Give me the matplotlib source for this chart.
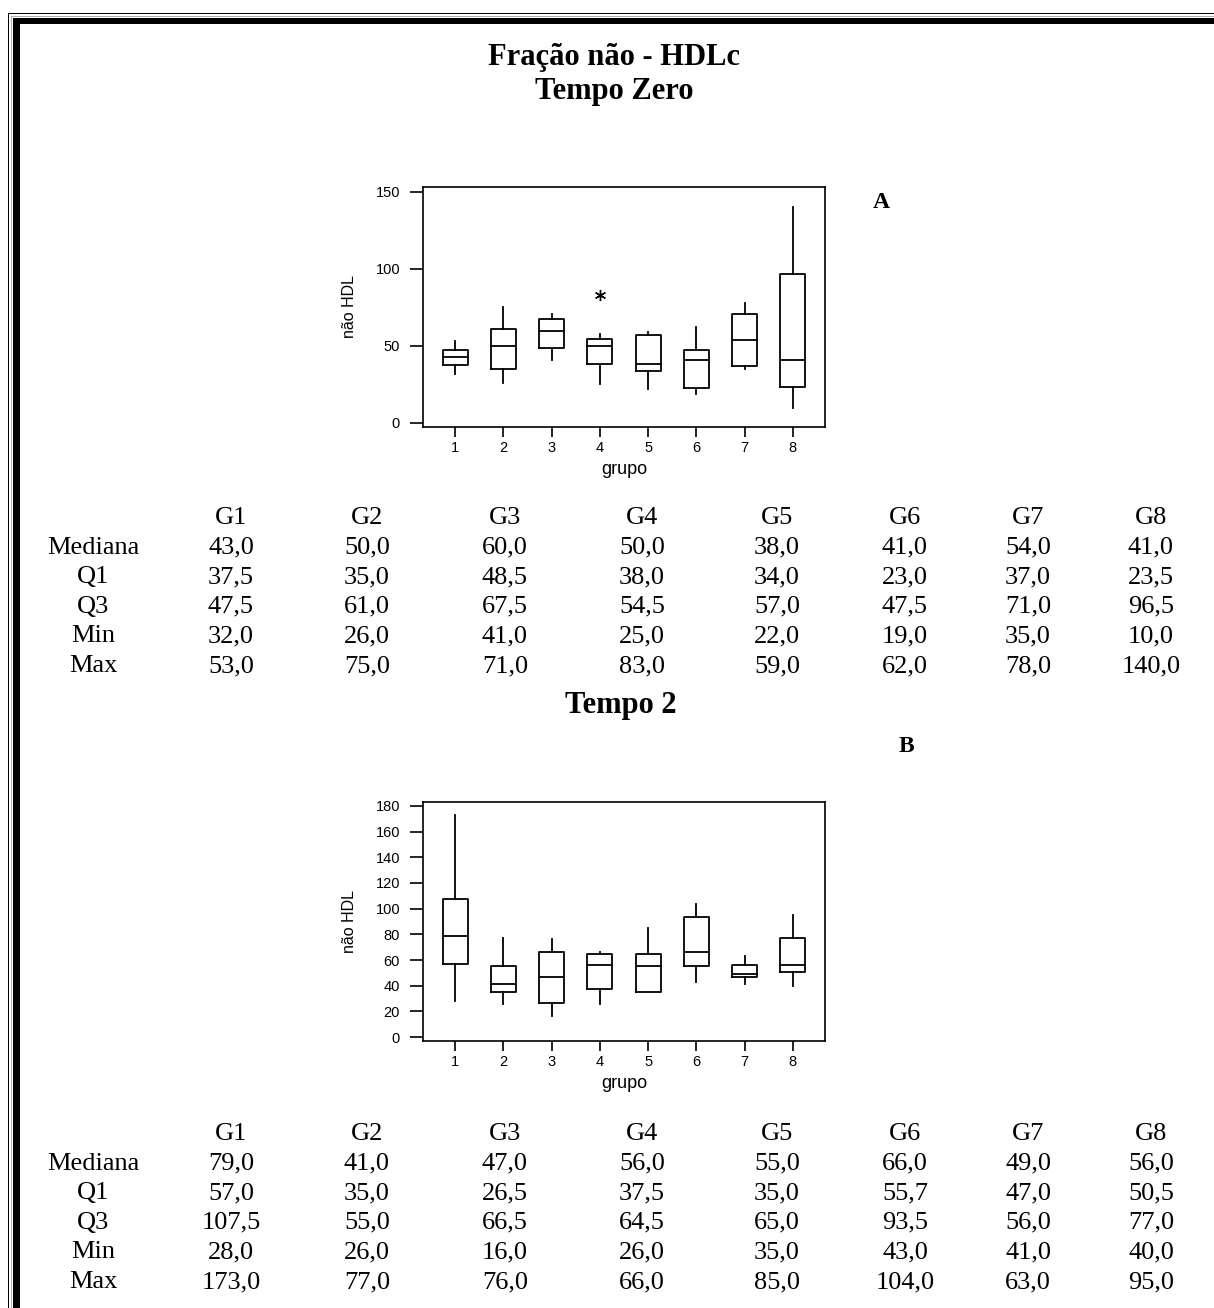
import matplotlib.pyplot as plt
from matplotlib.patches import Rectangle

# --- non-HDL cholesterol per group, two time points ---

groups = ["G1", "G2", "G3", "G4", "G5", "G6", "G7", "G8"]
row_names = ["Mediana", "Q1", "Q3", "Min", "Max"]

# Tempo zero
a_med = [43.0, 50.0, 60.0, 50.0, 38.0, 41.0, 54.0, 41.0]
a_q1 = [37.5, 35.0, 48.5, 38.0, 34.0, 23.0, 37.0, 23.5]
a_q3 = [47.5, 61.0, 67.5, 54.5, 57.0, 47.5, 71.0, 96.5]
a_min = [32.0, 26.0, 41.0, 25.0, 22.0, 19.0, 35.0, 10.0]
a_max = [53.0, 75.0, 71.0, 83.0, 59.0, 62.0, 78.0, 140.0]
# G4 max (83) lies beyond the upper fence, so its whisker stops earlier
a_whis_hi = [53.0, 75.0, 71.0, 58.0, 59.0, 62.0, 78.0, 140.0]
a_outliers = [[], [], [], [83.0], [], [], [], []]

# Tempo 2
b_med = [79.0, 41.0, 47.0, 56.0, 55.0, 66.0, 49.0, 56.0]
b_q1 = [57.0, 35.0, 26.5, 37.5, 35.0, 55.7, 47.0, 50.5]
b_q3 = [107.5, 55.0, 66.5, 64.5, 65.0, 93.5, 56.0, 77.0]
b_min = [28.0, 26.0, 16.0, 26.0, 35.0, 43.0, 41.0, 40.0]
b_max = [173.0, 77.0, 76.0, 66.0, 85.0, 104.0, 63.0, 95.0]
b_outliers = [[], [], [], [], [], [], [], []]

W, H = 1214, 1308
fig = plt.figure(figsize=(W / 100, H / 100), dpi=100)

# full-page axes in pixel units for the frame and the text
page = fig.add_axes([0, 0, 1, 1], zorder=0)
page.set_xlim(0, W)
page.set_ylim(H, 0)
page.axis("off")

# double page border (left and top)
page.add_patch(Rectangle((7.5, 13), 1.3, H, color="black", lw=0))
page.add_patch(Rectangle((7.5, 13), W, 1.3, color="black", lw=0))
page.add_patch(Rectangle((10.5, 15.5), 1.0, H, color="#b0b0b0", lw=0))
page.add_patch(Rectangle((10.5, 15.5), W, 1.0, color="#b0b0b0", lw=0))
page.add_patch(Rectangle((12.5, 17.5), 7.0, H, color="black", lw=0))
page.add_patch(Rectangle((12.5, 17.5), W, 6.5, color="black", lw=0))

serif = "Liberation Serif"
page.text(614, 58, "Fração não - HDLc", ha="center", va="center",
          family=serif, fontsize=22, fontweight="bold")
page.text(614, 92, "Tempo Zero", ha="center", va="center",
          family=serif, fontsize=22, fontweight="bold")
page.text(621, 706, "Tempo 2", ha="center", va="center",
          family=serif, fontsize=22, fontweight="bold")
page.text(881, 203, "A", ha="center", va="center",
          family=serif, fontsize=17, fontweight="bold")
page.text(906, 746, "B", ha="center", va="center",
          family=serif, fontsize=17, fontweight="bold")


def fmt(v):
    return f"{v:.1f}".replace(".", ",")


col_x = [231, 367, 505, 642, 777, 905, 1028, 1151]
label_x = 93
row_step = 29.6


def draw_table(top, rows):
    for x, g in zip(col_x, groups):
        page.text(x, top, g, ha="center", va="center", family=serif, fontsize=19)
    for i, (name, vals) in enumerate(zip(row_names, rows)):
        y = top + (i + 1) * row_step
        page.text(label_x, y, name, ha="center", va="center", family=serif, fontsize=19)
        for x, v in zip(col_x, vals):
            page.text(x, y, fmt(v), ha="center", va="center", family=serif, fontsize=19)


draw_table(518, [a_med, a_q1, a_q3, a_min, a_max])
draw_table(1134, [b_med, b_q1, b_q3, b_min, b_max])


def box_axes(left, top, right, bottom):
    return fig.add_axes([left / W, 1 - bottom / H, (right - left) / W, (bottom - top) / H], zorder=1)


def draw_boxes(ax, med, q1, q3, lo, hi, fliers, ylim, yticks):
    stats = []
    for i in range(len(med)):
        stats.append(dict(med=med[i], q1=q1[i], q3=q3[i],
                          whislo=lo[i], whishi=hi[i], fliers=fliers[i]))
    lw = 1.3
    ax.bxp(stats, positions=range(1, len(med) + 1), widths=0.52, showcaps=False,
           boxprops=dict(color="black", lw=lw),
           whiskerprops=dict(color="black", lw=lw),
           medianprops=dict(color="black", lw=lw),
           flierprops=dict(marker=(6, 2, 0), markersize=8, markeredgecolor="black",
                           markeredgewidth=1.0, linestyle="none"))
    ax.set_xlim(0.33, 8.67)
    ax.set_ylim(*ylim)
    ax.set_yticks(yticks)
    ax.set_xticks(range(1, 9))
    ax.set_xticklabels([str(i) for i in range(1, 9)])
    for s in ax.spines.values():
        s.set_linewidth(1.2)
    ax.tick_params(axis="y", direction="out", length=9.5, width=1.2, pad=7, labelsize=10.5)
    ax.tick_params(axis="x", direction="out", length=7, width=1.2, pad=3, labelsize=10.5)
    for lab in ax.get_xticklabels() + ax.get_yticklabels():
        lab.set_family("Liberation Sans")
    ax.set_xlabel("grupo", family="Liberation Sans", fontsize=13, va="center")
    ax.set_ylabel("não HDL", family="Liberation Sans", fontsize=11.5, va="center")
    ax.xaxis.set_label_coords(0.5, -0.179)
    ax.yaxis.set_label_coords(-0.182, 0.5)


ax_a = box_axes(423, 187, 825, 427)
draw_boxes(ax_a, a_med, a_q1, a_q3, a_min, a_whis_hi, a_outliers,
           (-2.6, 153.2), [0, 50, 100, 150])

ax_b = box_axes(423, 802, 825, 1041)
draw_boxes(ax_b, b_med, b_q1, b_q3, b_min, b_max, b_outliers,
           (-3.1, 183.1), list(range(0, 181, 20)))

fig.savefig("out.png", dpi=100)
